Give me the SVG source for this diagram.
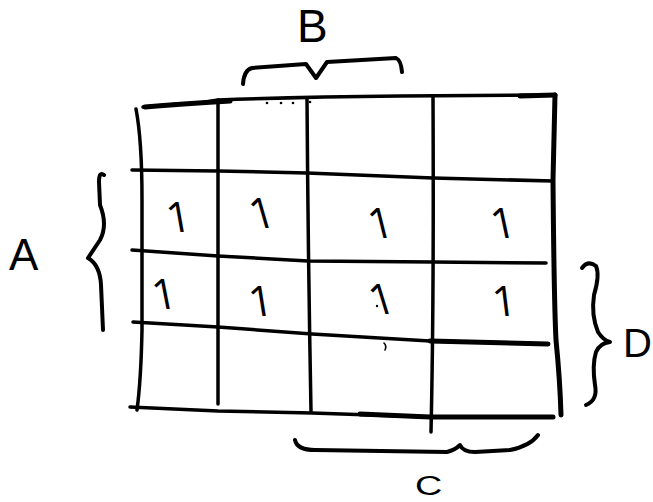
<svg xmlns="http://www.w3.org/2000/svg" width="653" height="502" viewBox="0 0 653 502">
<style>
.ln{fill:none;stroke:#000;stroke-width:3.5;stroke-linecap:round;stroke-linejoin:round}
.thk{stroke-width:5}
.br{fill:none;stroke:#000;stroke-width:4;stroke-linecap:round;stroke-linejoin:round}
.lbl{font-family:"Liberation Sans",Arial,sans-serif;fill:#000}
.one{font-family:"Open Sans","Liberation Sans",sans-serif;font-size:42px;fill:#000;text-anchor:middle}
</style>
<rect width="653" height="502" fill="#fff"/>
<g id="grid">
<path class="ln" d="M143,107 Q175,104 200,103 L218,100 Q300,97 400,96 L555,95"/>
<path class="ln thk" d="M145,107 Q180,104 230,101"/>
<path class="ln thk" d="M520,96 L555,95"/>
<path class="ln" d="M136,109 Q142,140 142,200 L142,330 Q141,380 137,410"/>
<path class="ln thk" d="M555,95 L553,180 Q554,300 556,340 Q560,380 561,415"/>
<path class="ln" d="M218,100 L218,404"/>
<path class="ln" d="M307,99 Q308,250 311,411"/>
<path class="ln" d="M433,97 Q434,300 431,432"/>
<path class="ln" d="M132,170 L218,171 L307,173 L433,178 L553,181"/>
<path class="ln" d="M132,250 L218,256 L308,261 L433,262 L546,263"/>
<path class="ln" d="M133,322 L218,327 L312,334 L430,341 L548,344"/>
<path class="ln thk" d="M430,341 L548,344"/>
<path class="ln" d="M130,407 L218,411 L312,413 L430,417 L553,417"/>
<path class="ln thk" d="M360,414 L430,417 L553,417"/>
<circle cx="267" cy="103" r="1.3"/>
<circle cx="281" cy="103" r="1.3"/>
<circle cx="293" cy="103" r="1.3"/>
<circle cx="310" cy="102" r="1.3"/>
<circle cx="377" cy="306" r="1.2"/>
<path class="ln" style="stroke-width:1.6" d="M384,343 Q387,346 385,350"/>
</g>
<g id="values">
<text class="one" transform="translate(181,232) skewX(10)">1</text>
<text class="one" transform="translate(266,228) skewX(16)">1</text>
<text class="one" transform="translate(384,238) skewX(14)">1</text>
<text class="one" transform="translate(506,238) skewX(12)">1</text>
<text class="one" transform="translate(167,309) skewX(11)">1</text>
<text class="one" transform="translate(263,316) skewX(9)">1</text>
<text class="one" transform="translate(386,314) skewX(17)">1</text>
<text class="one" transform="translate(506,316) skewX(7)">1</text>
</g>
<g id="label-B">
<text class="lbl" x="297" y="42" font-size="46">B</text>
<path class="br" d="M243,84 Q244,70 252,68 L306,64 L316,78 L327,62 L396,58 Q401,60 402,72"/>
</g>
<g id="label-A">
<text class="lbl" x="9" y="270" font-size="44">A</text>
<path class="br" d="M104,175 Q99,171 99,182 L100,205 Q108,225 100,240 Q92,252 88,258 Q100,265 101,285 L103,330"/>
</g>
<g id="label-D">
<text class="lbl" x="623" y="357" font-size="40">D</text>
<path class="br" d="M582,268 Q588,260 596,266 Q600,275 594,295 Q591,315 598,332 Q603,340 610,342 Q600,343 596,352 Q592,365 595,385 Q598,400 586,405"/>
</g>
<g id="label-C">
<text class="lbl" font-size="27" transform="translate(415,495) scale(1.4,1)">C</text>
<path class="br" d="M295,440 Q297,450 315,450 L447,452 Q455,450 460,445 Q463,452 475,452 L510,450 Q530,446 538,435"/>
</g>
</svg>
